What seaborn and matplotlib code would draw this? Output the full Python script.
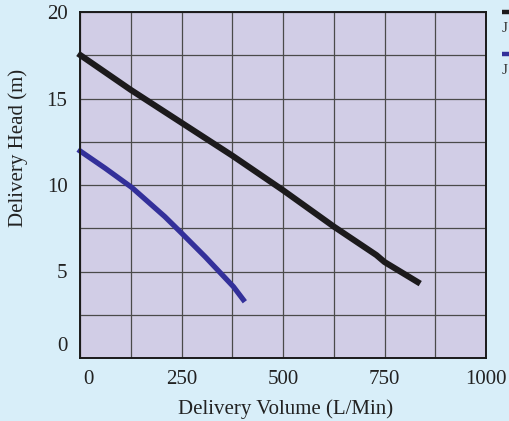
import matplotlib
matplotlib.use("Agg")
import matplotlib.pyplot as plt
import matplotlib.transforms as mtransforms
from matplotlib.lines import Line2D
import seaborn as sns
import pandas as pd
import numpy as np

# Data
black_x = [-5, 125, 250, 375, 500, 625, 730, 750, 838]
black_y = [17.6, 15.5, 13.6, 11.7, 9.7, 7.6, 5.95, 5.55, 4.3]
blue_x = [-5, 62, 128, 209, 251, 308, 378, 406]
blue_y = [12.05, 10.97, 9.85, 8.17, 7.2, 5.86, 4.12, 3.25]
series_names = ["J", "J "]
x_ticks = [0, 250, 500, 750, 1000]
y_ticks = [0, 5, 10, 15, 20]

df = pd.concat([
    pd.DataFrame({"x": black_x, "y": black_y, "model": series_names[0]}),
    pd.DataFrame({"x": blue_x, "y": blue_y, "model": series_names[1]}),
])

sns.set_theme(style="white")
plt.rcParams["font.family"] = ["Liberation Serif", "DejaVu Serif"]

BG = "#d8eef9"
PLOT_BG = "#d1cde6"
colors = {series_names[0]: "#1c1a1c", series_names[1]: "#33309a"}

fig = plt.figure(figsize=(5.09, 4.21), dpi=100, facecolor=BG)
ax = fig.add_axes([80/509, 63/421, 406/509, 346/421])
ax.set_facecolor(PLOT_BG)

for name, lw in [(series_names[0], 4.4), (series_names[1], 3.8)]:
    sns.lineplot(data=df[df["model"] == name], x="x", y="y", ax=ax,
                 color=colors[name], linewidth=lw, sort=False,
                 solid_capstyle="butt", solid_joinstyle="round",
                 legend=False, zorder=3)

ax.set_xlim(0, 1000)
ax.set_ylim(0, 20)
for line in ax.lines:
    line.set_clip_on(False)

ax.set_xticks(x_ticks)
ax.set_yticks(y_ticks)
ax.set_xticks(np.arange(0, 1001, 125), minor=True)
ax.set_yticks(np.arange(0, 20.1, 2.5), minor=True)
ax.grid(which="both", color="#4a4a4a", linewidth=0.9)
ax.tick_params(which="both", length=0)
ax.tick_params(axis="x", pad=9, labelsize=15, colors="#222222")
ax.tick_params(axis="y", pad=9, labelsize=15, colors="#222222")
for s in ax.spines.values():
    s.set_color("#1a1a1a")
    s.set_linewidth(1.4)
    s.set_zorder(4)

ax.set_xlabel("Delivery Volume (L/Min)", fontsize=15, color="#222222")
ax.set_ylabel("Delivery Head (m)", fontsize=15, color="#222222")
ax.xaxis.set_label_coords(0.507, -0.118)
ax.yaxis.set_label_coords(-0.127, 0.607)

# small label offsets as in the reference
fig.canvas.draw()
xl = ax.get_xticklabels()
xl[0].set_transform(xl[0].get_transform() + mtransforms.ScaledTranslation(8/100, 0, fig.dpi_scale_trans))
yl = ax.get_yticklabels()
yl[0].set_transform(yl[0].get_transform() + mtransforms.ScaledTranslation(0, 14/100, fig.dpi_scale_trans))

# legend (cut at the right edge)
for i, name in enumerate(series_names):
    yy = 1 - (12 + 42 * i) / 421
    fig.add_artist(Line2D([502/509, 1.0], [yy, yy], transform=fig.transFigure,
                          color=colors[name], linewidth=3.2, solid_capstyle="butt"))
    fig.text(502/509, 1 - (29 + 42 * i) / 421, name.strip(), fontsize=11,
             color="#333333", ha="left", va="center")

fig.savefig("out.png", dpi=100, facecolor=BG)
